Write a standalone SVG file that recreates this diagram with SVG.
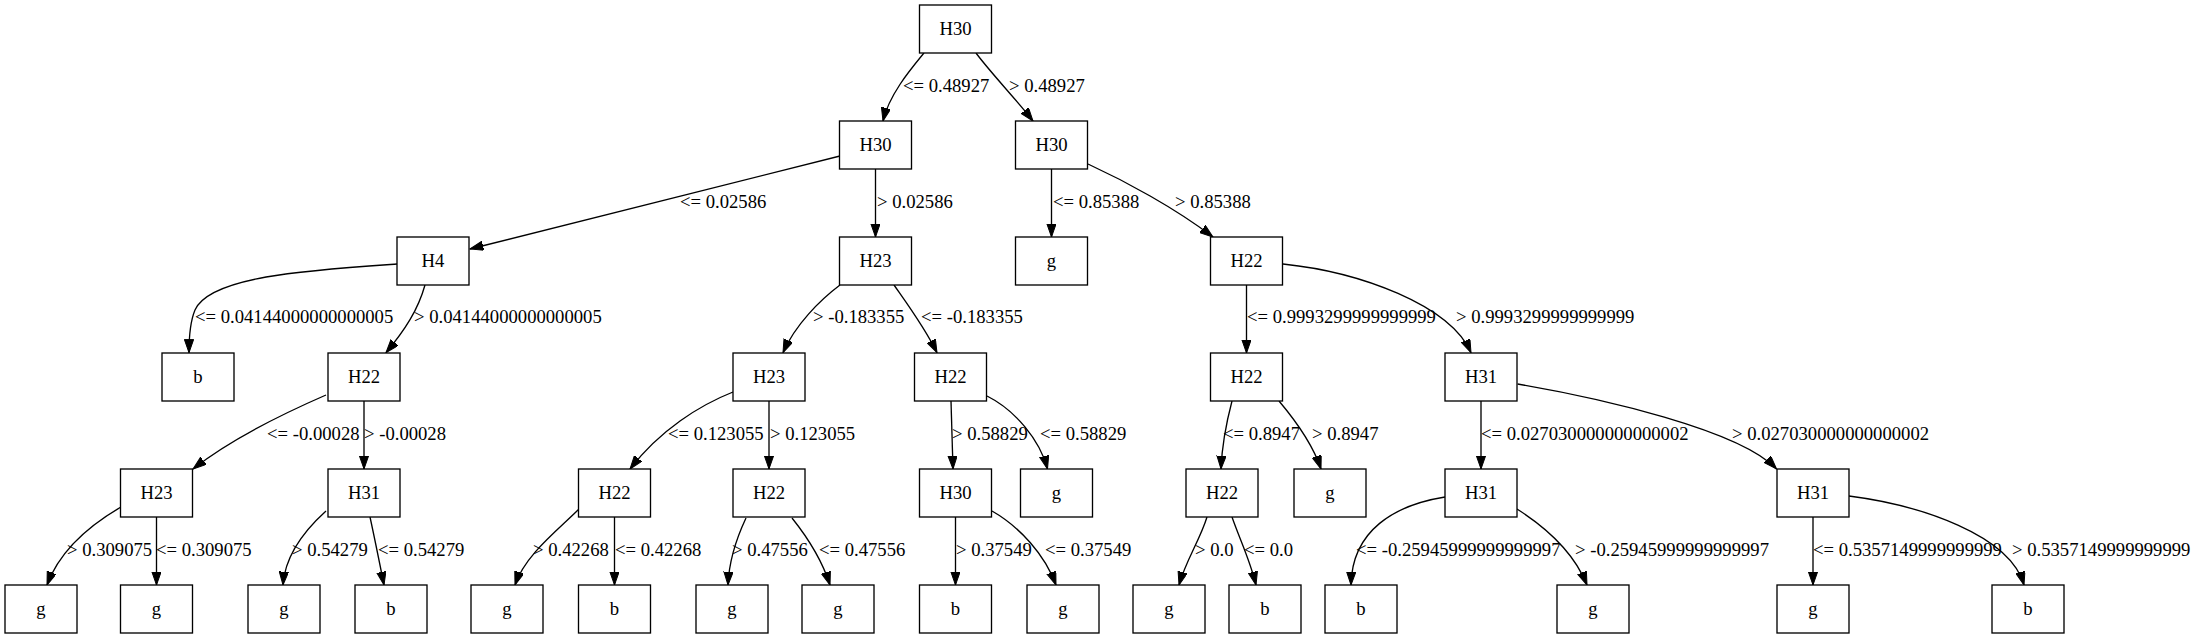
<svg xmlns="http://www.w3.org/2000/svg" width="2193" height="639" viewBox="0 0 2193 639" font-family="'Liberation Serif', 'Times New Roman', serif">
<defs>
<style>
.n rect{fill:#fff;stroke:#000;stroke-width:1.33}
.n text{font-family:'Liberation Serif','Times New Roman',serif;font-size:18.67px;text-anchor:middle;fill:#000}
#edges path{fill:none;stroke:#000;stroke-width:1.33;marker-end:url(#arr)}
#edges text{font-family:'Liberation Serif','Times New Roman',serif;font-size:18.67px;fill:#000}
</style>
<marker id="arr" markerUnits="userSpaceOnUse" markerWidth="14" markerHeight="10" refX="13.3" refY="4.67" orient="auto"><path d="M0,0 L13.3,4.67 L0,9.33 Z" fill="#000" stroke="#000" stroke-width="1"/></marker>
</defs>
<rect width="2193" height="639" fill="#fff"/>
<g id="edges" font-family="'Liberation Serif', 'Times New Roman', serif">
<path d="M924,53 C910,70 889,95 883,121"/><text x="903" y="92">&lt;= 0.48927</text>
<path d="M976,53 C990,72 1015,98 1033,121"/><text x="1009" y="92">&gt; 0.48927</text>
<path d="M840,156 L470,249"/><text x="680" y="208">&lt;= 0.02586</text>
<path d="M875.5,169 L875.5,237"/><text x="877" y="208">&gt; 0.02586</text>
<path d="M1051.5,169 L1051.5,237"/><text x="1053" y="208">&lt;= 0.85388</text>
<path d="M1088,164 C1125,181 1175,208 1213,237"/><text x="1175" y="208">&gt; 0.85388</text>
<path d="M397,264 C310,270 210,276 195,310 C190,322 189,335 189,352.7"/><text x="195" y="323">&lt;= 0.04144000000000005</text>
<path d="M425,285 C418,310 405,330 386,352.7"/><text x="414" y="323">&gt; 0.04144000000000005</text>
<path d="M840,285 C820,300 795,325 783,352.7"/><text x="813" y="323">&gt; -0.183355</text>
<path d="M894,285 C908,305 925,328 937,352.7"/><text x="921" y="323">&lt;= -0.183355</text>
<path d="M1246.5,285 L1246.5,353"/><text x="1247" y="323">&lt;= 0.9993299999999999</text>
<path d="M1283,264 C1360,272 1450,305 1471,352.7"/><text x="1456" y="323">&gt; 0.9993299999999999</text>
<path d="M326,395 C280,415 230,440 193,469"/><text x="267" y="440">&lt;= -0.00028</text>
<path d="M364,401 L364,469"/><text x="364" y="440">&gt; -0.00028</text>
<path d="M733,392 C700,405 660,430 630,469"/><text x="668" y="440">&lt;= 0.123055</text>
<path d="M769,401 L769,469"/><text x="770" y="440">&gt; 0.123055</text>
<path d="M951,401 L953,469"/><text x="952" y="440">&gt; 0.58829</text>
<path d="M987,396 C1015,410 1040,440 1047.5,469"/><text x="1040" y="440">&lt;= 0.58829</text>
<path d="M1232,401 C1227,420 1222,445 1221,469"/><text x="1223" y="440">&lt;= 0.8947</text>
<path d="M1279,401 C1295,420 1313,445 1321,469"/><text x="1312" y="440">&gt; 0.8947</text>
<path d="M1481,401 L1481,469"/><text x="1481" y="440">&lt;= 0.027030000000000002</text>
<path d="M1517.6,384 C1600,398 1740,430 1776.5,469"/><text x="1732" y="440">&gt; 0.027030000000000002</text>
<path d="M121,507 C90,525 60,550 47,585"/><text x="67" y="556">&gt; 0.309075</text>
<path d="M156.5,517 L156.5,585"/><text x="156" y="556">&lt;= 0.309075</text>
<path d="M326,511 C305,530 285,555 283,585"/><text x="292" y="556">&gt; 0.54279</text>
<path d="M370,517 C375,540 380,565 384,585"/><text x="378" y="556">&lt;= 0.54279</text>
<path d="M579,509 C558,530 525,555 515,585"/><text x="533" y="556">&gt; 0.42268</text>
<path d="M614.5,517 L614.5,585"/><text x="615" y="556">&lt;= 0.42268</text>
<path d="M746,518 C738,535 729,560 728,585"/><text x="732" y="556">&gt; 0.47556</text>
<path d="M792,518 C808,538 822,560 830,585"/><text x="819" y="556">&lt;= 0.47556</text>
<path d="M955.5,517 L955.5,585"/><text x="956" y="556">&gt; 0.37549</text>
<path d="M992,511 C1020,527 1045,555 1056,585"/><text x="1045" y="556">&lt;= 0.37549</text>
<path d="M1207,517 C1200,540 1186,560 1179,585"/><text x="1195" y="556">&gt; 0.0</text>
<path d="M1232,517 C1240,540 1250,560 1256,585"/><text x="1244" y="556">&lt;= 0.0</text>
<path d="M1445,497 C1395,505 1352,530 1351,585"/><text x="1356" y="556">&lt;= -0.25945999999999997</text>
<path d="M1517,509 C1550,530 1575,555 1587,585"/><text x="1575" y="556">&gt; -0.25945999999999997</text>
<path d="M1813,517 L1813,585"/><text x="1813" y="556">&lt;= 0.5357149999999999</text>
<path d="M1849,496 C1920,505 2010,535 2024,585"/><text x="2012" y="556">&gt; 0.5357149999999999</text>
</g>
<g id="n0" class="n"><rect x="919.5" y="5" width="72" height="48"/><text x="955.5" y="34.5">H30</text></g>
<g id="n1" class="n"><rect x="839.5" y="121" width="72" height="48"/><text x="875.5" y="150.5">H30</text></g>
<g id="n2" class="n"><rect x="1015.5" y="121" width="72" height="48"/><text x="1051.5" y="150.5">H30</text></g>
<g id="n3" class="n"><rect x="397" y="237" width="72" height="48"/><text x="433" y="266.5">H4</text></g>
<g id="n4" class="n"><rect x="839.5" y="237" width="72" height="48"/><text x="875.5" y="266.5">H23</text></g>
<g id="n5" class="n"><rect x="1015.5" y="237" width="72" height="48"/><text x="1051.5" y="266.5">g</text></g>
<g id="n6" class="n"><rect x="1210.5" y="237" width="72" height="48"/><text x="1246.5" y="266.5">H22</text></g>
<g id="n7" class="n"><rect x="162" y="353" width="72" height="48"/><text x="198" y="382.5">b</text></g>
<g id="n8" class="n"><rect x="328" y="353" width="72" height="48"/><text x="364" y="382.5">H22</text></g>
<g id="n9" class="n"><rect x="733" y="353" width="72" height="48"/><text x="769" y="382.5">H23</text></g>
<g id="n10" class="n"><rect x="914.5" y="353" width="72" height="48"/><text x="950.5" y="382.5">H22</text></g>
<g id="n11" class="n"><rect x="1210.5" y="353" width="72" height="48"/><text x="1246.5" y="382.5">H22</text></g>
<g id="n12" class="n"><rect x="1445" y="353" width="72" height="48"/><text x="1481" y="382.5">H31</text></g>
<g id="n13" class="n"><rect x="120.5" y="469" width="72" height="48"/><text x="156.5" y="498.5">H23</text></g>
<g id="n14" class="n"><rect x="328" y="469" width="72" height="48"/><text x="364" y="498.5">H31</text></g>
<g id="n15" class="n"><rect x="578.5" y="469" width="72" height="48"/><text x="614.5" y="498.5">H22</text></g>
<g id="n16" class="n"><rect x="733" y="469" width="72" height="48"/><text x="769" y="498.5">H22</text></g>
<g id="n17" class="n"><rect x="919.5" y="469" width="72" height="48"/><text x="955.5" y="498.5">H30</text></g>
<g id="n18" class="n"><rect x="1020.5" y="469" width="72" height="48"/><text x="1056.5" y="498.5">g</text></g>
<g id="n19" class="n"><rect x="1186" y="469" width="72" height="48"/><text x="1222" y="498.5">H22</text></g>
<g id="n20" class="n"><rect x="1294" y="469" width="72" height="48"/><text x="1330" y="498.5">g</text></g>
<g id="n21" class="n"><rect x="1445" y="469" width="72" height="48"/><text x="1481" y="498.5">H31</text></g>
<g id="n22" class="n"><rect x="1777" y="469" width="72" height="48"/><text x="1813" y="498.5">H31</text></g>
<g id="n23" class="n"><rect x="5" y="585" width="72" height="48"/><text x="41" y="614.5">g</text></g>
<g id="n24" class="n"><rect x="120.5" y="585" width="72" height="48"/><text x="156.5" y="614.5">g</text></g>
<g id="n25" class="n"><rect x="248" y="585" width="72" height="48"/><text x="284" y="614.5">g</text></g>
<g id="n26" class="n"><rect x="355" y="585" width="72" height="48"/><text x="391" y="614.5">b</text></g>
<g id="n27" class="n"><rect x="471" y="585" width="72" height="48"/><text x="507" y="614.5">g</text></g>
<g id="n28" class="n"><rect x="578.5" y="585" width="72" height="48"/><text x="614.5" y="614.5">b</text></g>
<g id="n29" class="n"><rect x="696" y="585" width="72" height="48"/><text x="732" y="614.5">g</text></g>
<g id="n30" class="n"><rect x="802" y="585" width="72" height="48"/><text x="838" y="614.5">g</text></g>
<g id="n31" class="n"><rect x="919.5" y="585" width="72" height="48"/><text x="955.5" y="614.5">b</text></g>
<g id="n32" class="n"><rect x="1027" y="585" width="72" height="48"/><text x="1063" y="614.5">g</text></g>
<g id="n33" class="n"><rect x="1133" y="585" width="72" height="48"/><text x="1169" y="614.5">g</text></g>
<g id="n34" class="n"><rect x="1229" y="585" width="72" height="48"/><text x="1265" y="614.5">b</text></g>
<g id="n35" class="n"><rect x="1325" y="585" width="72" height="48"/><text x="1361" y="614.5">b</text></g>
<g id="n36" class="n"><rect x="1557" y="585" width="72" height="48"/><text x="1593" y="614.5">g</text></g>
<g id="n37" class="n"><rect x="1777" y="585" width="72" height="48"/><text x="1813" y="614.5">g</text></g>
<g id="n38" class="n"><rect x="1992" y="585" width="72" height="48"/><text x="2028" y="614.5">b</text></g>
</svg>
